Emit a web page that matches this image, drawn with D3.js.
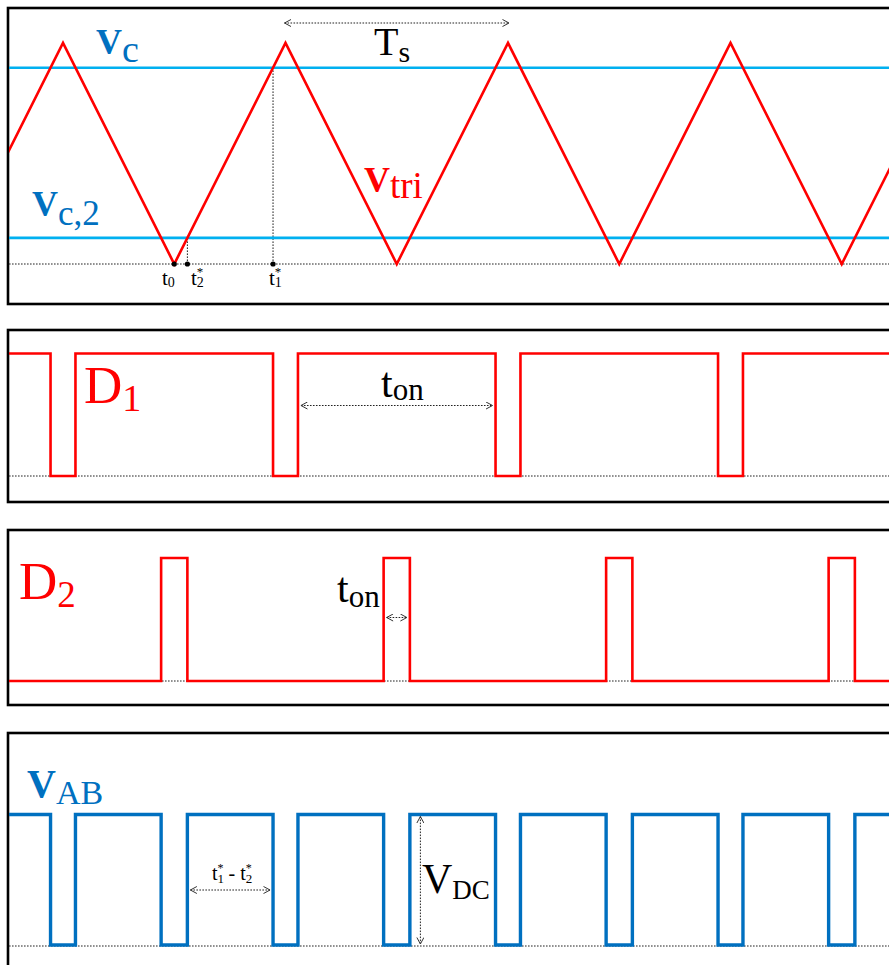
<!DOCTYPE html>
<html>
<head>
<meta charset="utf-8">
<script src="https://cdn.jsdelivr.net/npm/d3@7/dist/d3.min.js"></script>
<style>
  html, body { margin: 0; padding: 0; background: #fff; }
  svg { display: block; }
  text { font-family: "Liberation Serif", "DejaVu Serif", "Times New Roman", serif; }
</style>
</head>
<body>
<script>
// Carrier (triangle) vertices over time (Ts = 100 time units), value normalised 0..1
const triT = [-50, 0, 50, 100, 150, 200, 250, 300, 350, 400];
const triV = [0, 1, 0, 1, 0, 1, 0, 1, 0, 1];

// Control levels compared with the carrier
const vcLevel = 0.888;
const vc2Level = 0.118;

// Switching instants inside one period
const t0 = 50;
const t2Star = 55.9;
const t1Star = 94.4;

// Gate signal D1 (step after each instant)
const d1T = [-25, -5.6, 5.6, 94.4, 105.6, 194.4, 205.6, 294.4, 305.6, 372];
const d1V = [1, 0, 1, 0, 1, 0, 1, 0, 1, 1];

// Gate signal D2
const d2T = [-25, 44.1, 55.9, 144.1, 155.9, 244.1, 255.9, 344.1, 355.9, 372];
const d2V = [0, 1, 0, 1, 0, 1, 0, 1, 0, 0];

// Output voltage vAB
const vabT = [-25, -5.6, 5.6, 44.1, 55.9, 94.4, 105.6, 144.1, 155.9, 194.4, 205.6,
              244.1, 255.9, 294.4, 305.6, 344.1, 355.9, 372];
const vabV = [1, 0, 1, 0, 1, 0, 1, 0, 1, 0, 1, 0, 1, 0, 1, 0, 1, 1];

const W = 889, H = 965;
const RED = "#ff0000", LBLUE = "#00b0f0", DBLUE = "#0070c0";

const svg = d3.select("body").append("svg").attr("width", W).attr("height", H);
svg.append("rect").attr("width", W).attr("height", H).attr("fill", "#fff");

const x = d3.scaleLinear().domain([0, 300]).range([63, 730.5]);

const defs = svg.append("defs");
defs.append("marker")
  .attr("id", "chev").attr("viewBox", "0 0 8 8")
  .attr("refX", 7.5).attr("refY", 4)
  .attr("markerWidth", 8).attr("markerHeight", 8)
  .attr("markerUnits", "userSpaceOnUse")
  .attr("orient", "auto-start-reverse")
  .append("path").attr("d", "M1,0.5 L7.5,4 L1,7.5")
  .attr("fill", "none").attr("stroke", "#333").attr("stroke-width", 1);

const panels = [
  { id: "p1", top: 8, bottom: 304 },
  { id: "p2", top: 330, bottom: 502 },
  { id: "p3", top: 530, bottom: 705 },
  { id: "p4", top: 733, bottom: 990 }
];
panels.forEach(p => {
  defs.append("clipPath").attr("id", "clip-" + p.id)
    .append("rect").attr("x", 9).attr("y", p.top + 1)
    .attr("width", W).attr("height", p.bottom - p.top - 2);
});

function frame(p) {
  svg.append("rect")
    .attr("x", 8).attr("y", p.top)
    .attr("width", W + 20).attr("height", p.bottom - p.top)
    .attr("fill", "none").attr("stroke", "#000").attr("stroke-width", 2.6);
}

function dotted(x1, y1, x2, y2, arrows) {
  const l = svg.append("line")
    .attr("x1", x1).attr("y1", y1).attr("x2", x2).attr("y2", y2)
    .attr("stroke", "#222").attr("stroke-width", 1)
    .attr("stroke-dasharray", "1.6,1.4");
  if (arrows) l.attr("marker-start", "url(#chev)").attr("marker-end", "url(#chev)");
  return l;
}

// Text with subscript / superscript pieces
function label(px, py, parts, color) {
  const t = svg.append("text").attr("x", px).attr("y", py)
    .attr("fill", color || "#000");
  parts.forEach(pt => {
    const s = t.append("tspan").text(pt.text)
      .attr("font-size", pt.size)
      .attr("font-weight", pt.bold ? "bold" : "normal");
    if (pt.dx != null) s.attr("dx", pt.dx);
    if (pt.dy != null) s.attr("dy", pt.dy);
  });
  return t;
}

// ---------- Panel 1: carrier and control levels ----------
const y1 = d3.scaleLinear().domain([0, 1]).range([264, 43]);
frame(panels[0]);
dotted(9, y1(0), W, y1(0));
dotted(x(t1Star), y1(0), x(t1Star), y1(vcLevel));
dotted(x(t2Star), y1(0), x(t2Star), y1(vc2Level));

const g1 = svg.append("g").attr("clip-path", "url(#clip-p1)");
g1.append("line").attr("x1", 0).attr("x2", W)
  .attr("y1", y1(vcLevel)).attr("y2", y1(vcLevel))
  .attr("stroke", LBLUE).attr("stroke-width", 2.6);
g1.append("line").attr("x1", 0).attr("x2", W)
  .attr("y1", y1(vc2Level)).attr("y2", y1(vc2Level))
  .attr("stroke", LBLUE).attr("stroke-width", 2.6);
g1.append("path")
  .datum(triT.map((t, i) => [t, triV[i]]))
  .attr("d", d3.line().x(d => x(d[0])).y(d => y1(d[1])))
  .attr("fill", "none").attr("stroke", RED).attr("stroke-width", 2.6)
  .attr("stroke-linejoin", "miter");

[t0, t2Star, t1Star].forEach(t => {
  svg.append("circle").attr("cx", x(t)).attr("cy", y1(0)).attr("r", 2.6).attr("fill", "#000");
});

dotted(x(100) - 1, 23, x(200) + 1, 23, true);
label(374, 55, [{ text: "T", size: 40 }, { text: "s", size: 30, dy: 7 }]);

label(96, 54, [{ text: "V", size: 36, bold: true }, { text: "c", size: 38, dy: 8 }], DBLUE);
label(32, 216, [{ text: "V", size: 36, bold: true }, { text: "c,2", size: 35, dy: 9 }], DBLUE);
label(364, 192, [{ text: "V", size: 36, bold: true }, { text: "tri", size: 37, dy: 6 }], RED);

label(162, 285, [{ text: "t", size: 21 }, { text: "0", size: 14, dy: 2 }]);
label(191, 285, [{ text: "t", size: 21 }, { text: "2", size: 14, dy: 2 }, { text: "*", size: 13, dx: -7, dy: -11 }]);
label(269, 285, [{ text: "t", size: 21 }, { text: "1", size: 14, dy: 2 }, { text: "*", size: 13, dx: -7, dy: -11 }]);

// ---------- Panel 2: D1 ----------
const y2 = d3.scaleLinear().domain([0, 1]).range([476, 353.5]);
frame(panels[1]);
dotted(9, y2(0), W, y2(0));
svg.append("g").attr("clip-path", "url(#clip-p2)").append("path")
  .datum(d1T.map((t, i) => [t, d1V[i]]))
  .attr("d", d3.line().curve(d3.curveStepAfter).x(d => x(d[0])).y(d => y2(d[1])))
  .attr("fill", "none").attr("stroke", RED).attr("stroke-width", 2.6);
label(84, 403, [{ text: "D", size: 53 }, { text: "1", size: 38, dy: 8 }], RED);
label(381, 397, [{ text: "t", size: 42 }, { text: "on", size: 31, dy: 3 }]);
dotted(x(105.6) + 3, 405.5, x(194.4) - 3, 405.5, true);

// ---------- Panel 3: D2 ----------
const y3 = d3.scaleLinear().domain([0, 1]).range([681, 558]);
frame(panels[2]);
dotted(9, y3(0), W, y3(0));
svg.append("g").attr("clip-path", "url(#clip-p3)").append("path")
  .datum(d2T.map((t, i) => [t, d2V[i]]))
  .attr("d", d3.line().curve(d3.curveStepAfter).x(d => x(d[0])).y(d => y3(d[1])))
  .attr("fill", "none").attr("stroke", RED).attr("stroke-width", 2.6);
label(19, 599, [{ text: "D", size: 53 }, { text: "2", size: 37, dy: 8 }], RED);
label(337, 602, [{ text: "t", size: 42 }, { text: "on", size: 31, dy: 5 }]);
dotted(x(144.1) + 3, 617.5, x(155.9) - 3, 617.5, true);

// ---------- Panel 4: vAB ----------
const y4 = d3.scaleLinear().domain([0, 1]).range([945, 814.5]);
frame(panels[3]);
dotted(9, y4(0) + 1, W, y4(0) + 1);
svg.append("g").attr("clip-path", "url(#clip-p4)").append("path")
  .datum(vabT.map((t, i) => [t, vabV[i]]))
  .attr("d", d3.line().curve(d3.curveStepAfter).x(d => x(d[0])).y(d => y4(d[1])))
  .attr("fill", "none").attr("stroke", DBLUE).attr("stroke-width", 3.4);
label(27, 797, [{ text: "V", size: 40, bold: true }, { text: "AB", size: 34, dy: 7 }], DBLUE);

dotted(x(t2Star) + 3, 890, x(t1Star) - 3, 890, true);
label(212, 880, [
  { text: "t", size: 20 }, { text: "1", size: 13, dy: 3 }, { text: "*", size: 12, dx: -6.5, dy: -11 },
  { text: " - t", size: 20, dy: 8 }, { text: "2", size: 13, dy: 3 }, { text: "*", size: 12, dx: -6.5, dy: -11 }
]);

dotted(x(155.9) + 10.5, y4(1) + 2, x(155.9) + 10.5, y4(0) - 1, true);
label(422, 893, [{ text: "V", size: 42 }, { text: "DC", size: 27, dy: 6 }]);
</script>
</body>
</html>
